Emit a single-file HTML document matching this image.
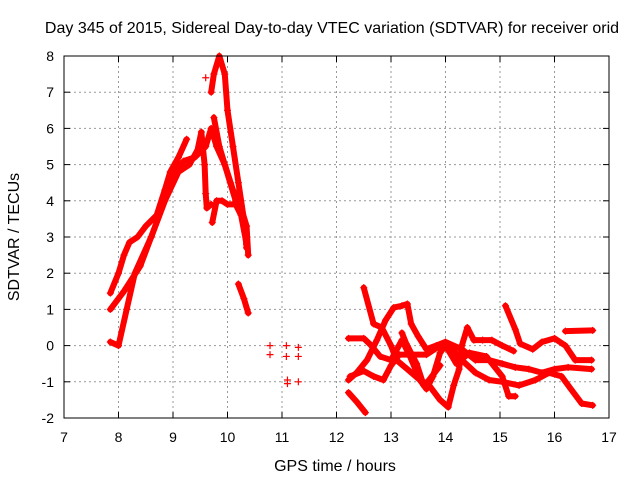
<!DOCTYPE html>
<html><head><meta charset="utf-8"><style>
body{margin:0;background:#fff}
svg text{font-family:"Liberation Sans",sans-serif;fill:#000}
</style></head><body>
<svg id="chart" width="640" height="480">
<text x="332" y="33" font-size="16" text-anchor="middle">Day 345 of 2015, Sidereal Day-to-day VTEC variation (SDTVAR) for receiver orid</text>
<text x="335" y="471" font-size="16" text-anchor="middle">GPS time / hours</text>
<text transform="translate(19,237) rotate(-90)" font-size="16" text-anchor="middle">SDTVAR / TECUs</text>
<g id="grid"></g><g id="marks"></g>
<rect x="64" y="56" width="545" height="362" fill="none" stroke="#000"/>
</svg>
<script>
const xTicks=[7,8,9,10,11,12,13,14,15,16,17];
const yTicks=[-2,-1,0,1,2,3,4,5,6,7,8];
const traceA=[[7.85,1.45],[8.0,2.0],[8.1,2.5],[8.2,2.85],[8.35,3.0],[8.5,3.3],[8.7,3.6],[8.85,4.3],[8.95,4.8],[9.1,5.2],[9.25,5.7]];
const traceB=[[7.85,1.0],[8.1,1.5],[8.4,2.2],[8.6,3.0],[8.85,4.0],[9.0,4.8],[9.2,5.1],[9.4,5.2],[9.6,5.5],[9.7,6.0],[9.8,5.5],[9.95,5.0],[10.1,4.3],[10.25,3.8],[10.35,3.3],[10.38,2.5]];
const traceC=[[7.85,0.1],[8.0,0.0],[8.15,1.0],[8.3,2.0],[8.6,3.0],[8.85,4.0],[9.1,4.8],[9.3,5.0],[9.45,5.4],[9.52,5.9],[9.58,5.0],[9.6,4.2],[9.62,3.8],[9.7,3.9]];
const traceD=[[9.7,7.0],[9.75,7.5],[9.85,8.0],[9.95,7.5],[10.0,6.5],[10.1,5.5],[10.2,4.5],[10.3,3.5],[10.35,2.7]];
const traceE=[[9.72,3.4],[9.8,4.0],[9.9,4.0],[10.0,3.9],[10.15,3.9],[10.25,3.6],[10.35,2.8]];
const traceF=[[9.75,6.3],[9.85,5.5],[9.95,5.0],[10.05,4.5],[10.15,4.0],[10.3,3.5]];
const traceS=[[10.2,1.7],[10.3,1.3],[10.38,0.9]];
const traceG=[[12.5,1.6],[12.68,0.6],[12.83,0.5],[13.0,0],[13.1,-0.4],[13.3,-0.65],[13.53,-0.95],[13.7,-1.1],[13.9,-1.5],[14.05,-1.7],[14.15,-1.1],[14.25,-0.65],[14.3,0],[14.4,0.5],[14.52,0.15],[14.68,0.15],[14.85,0.15],[15.04,0],[15.25,-0.15]];
const traceH=[[15.1,1.1],[15.28,0.45],[15.37,0.05],[15.6,-0.1],[15.77,0.1],[16.0,0.2],[16.2,0],[16.38,-0.4],[16.68,-0.4]];
const traceI=[[16.2,0.4],[16.7,0.42]];
const traceJ=[[12.22,0.2],[12.5,0.2],[12.62,0.03],[12.8,-0.3],[13.0,-0.4],[13.2,0.15],[13.35,-0.3],[13.53,-0.95],[13.65,-1.2],[13.77,-0.85],[13.9,-0.2],[14.0,0],[14.2,-0.5],[14.44,-0.2],[14.75,-0.3],[15.04,-0.85],[15.16,-1.4],[15.28,-1.4]];
const traceK=[[12.22,-0.95],[12.37,-0.75],[12.56,-0.4],[12.74,0.15],[12.9,0.7],[13.05,1.05],[13.2,1.1],[13.3,1.15],[13.37,0.6],[13.5,0.25],[13.65,-0.1],[13.83,0],[14.0,0.1],[14.3,-0.1],[14.55,-0.4],[14.8,-0.4],[15.04,-0.5],[15.28,-0.6],[15.53,-0.65],[15.77,-0.75],[16.0,-0.65],[16.25,-0.6],[16.68,-0.65]];
const traceL=[[12.22,-1.3],[12.37,-1.55],[12.53,-1.85]];
const traceM=[[12.25,-0.85],[12.5,-0.7],[12.68,-0.85],[12.86,-0.95],[13.0,-0.55],[13.15,-0.25],[13.4,-0.25],[13.65,-0.25],[13.9,0],[14.07,0],[14.3,-0.4],[14.55,-0.75],[14.8,-0.95],[15.04,-1.0],[15.35,-1.1],[15.65,-0.95],[15.9,-0.75],[16.13,-0.85],[16.3,-1.2],[16.5,-1.6],[16.7,-1.65]];
const traceN=[[13.2,0.35],[13.28,0.05],[13.47,-0.5],[13.6,-1.1],[13.7,-0.95],[13.9,-0.55]];
const isolated=[[9.6,7.4],[10.78,0],[10.78,-0.25],[11.08,0],[11.08,-0.3],[11.1,-0.95],[11.1,-1.05],[11.3,-0.05],[11.3,-0.3],[11.3,-1.0]];
const traces=[traceA,traceB,traceC,traceD,traceE,traceF,traceS,traceG,traceH,traceI,traceJ,traceK,traceL,traceM,traceN];
const NS='http://www.w3.org/2000/svg';
const X=t=>64+(t-7)*54.5, Y=v=>56+(8-v)*36.2;
const grid=document.getElementById('grid'), marks=document.getElementById('marks');
function mk(tag,attrs,parent){const e=document.createElementNS(NS,tag);for(const k in attrs)e.setAttribute(k,attrs[k]);parent.appendChild(e);return e;}
xTicks.forEach(t=>{
  if(t>7&&t<17){const g=mk('line',{x1:X(t),x2:X(t),y1:56,y2:418,stroke:'#999','stroke-dasharray':'2,3'},grid);
  
  }
  mk('line',{x1:X(t),x2:X(t),y1:418,y2:412,stroke:'#000'},grid);
  mk('line',{x1:X(t),x2:X(t),y1:56,y2:62,stroke:'#000'},grid);
  const l=mk('text',{x:X(t),y:442,'font-size':14,'text-anchor':'middle'},grid);l.textContent=t;
  
  
});
yTicks.forEach(v=>{
  if(v>-2&&v<8){const g=mk('line',{x1:64,x2:609,y1:Y(v),y2:Y(v),stroke:'#999','stroke-dasharray':'2,3'},grid);
  
  }
  mk('line',{x1:64,x2:70,y1:Y(v),y2:Y(v),stroke:'#000'},grid);
  mk('line',{x1:603,x2:609,y1:Y(v),y2:Y(v),stroke:'#000'},grid);
  const l=mk('text',{x:54,y:Y(v)+5,'font-size':14,'text-anchor':'end'},grid);l.textContent=v;
  
  
});
function plus(t,v){
  const p=mk('path',{d:`M${X(t)-3.5},${Y(v)}h7M${X(t)},${Y(v)-3.5}v7`,stroke:'#f00','stroke-width':1.2},marks);
  
  
}
traces.forEach(tr=>{
  const pl=mk('polyline',{points:tr.map(p=>X(p[0])+','+Y(p[1])).join(' '),fill:'none',stroke:'#f00','stroke-width':6,'stroke-linejoin':'round','stroke-linecap':'round'},marks);
  
  
  tr.forEach(p=>plus(p[0],p[1]));
});
isolated.forEach(p=>plus(p[0],p[1]));
</script>
</body></html>
